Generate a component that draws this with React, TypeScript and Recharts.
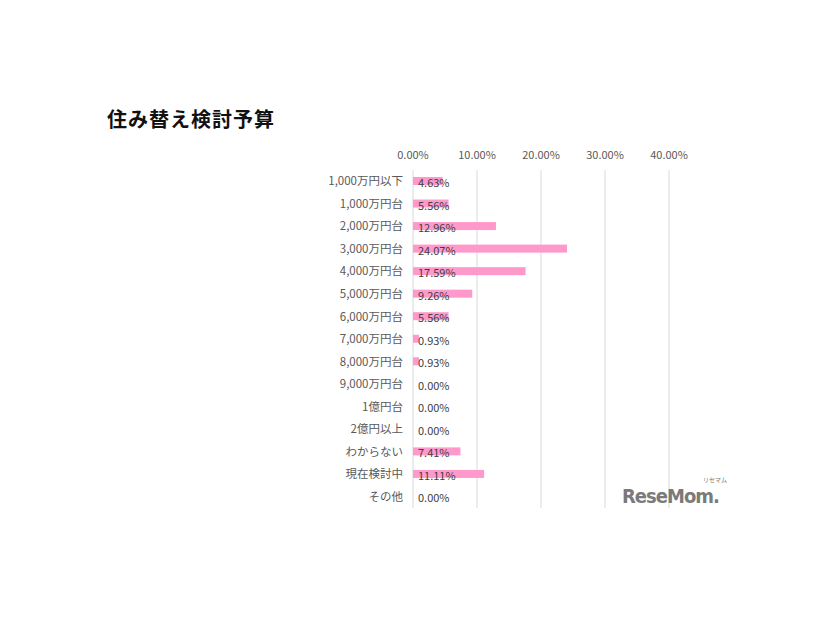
import { BarChart, Bar, XAxis, YAxis, CartesianGrid } from "recharts";

const CATEGORIES = [
  "1,000万円以下",
  "1,000万円台",
  "2,000万円台",
  "3,000万円台",
  "4,000万円台",
  "5,000万円台",
  "6,000万円台",
  "7,000万円台",
  "8,000万円台",
  "9,000万円台",
  "1億円台",
  "2億円以上",
  "わからない",
  "現在検討中",
  "その他",
];

const VALUES = [4.63, 5.56, 12.96, 24.07, 17.59, 9.26, 5.56, 0.93, 0.93, 0, 0, 0, 7.41, 11.11, 0];

const X_TICKS = [0, 10, 20, 30, 40];

const FONT = "'Noto Sans CJK JP', 'Noto Sans', sans-serif";

const data = CATEGORIES.map((name, i) => ({ name, value: VALUES[i] }));

const pct = (v: number) => `${v.toFixed(2)}%`;

// bar + its value label together, so 0% rows still get a label
function BarWithLabel(props: any) {
  const { x, y, width, height, payload } = props;
  const w = Math.max(0, Number(width) || 0);
  return (
    <g>
      {w > 0 && <rect x={x} y={y} width={w} height={height} fill="#ff99cc" />}
      <text
        x={Number(x) + 5}
        y={Number(y) + Number(height) / 2 + 1}
        dominantBaseline="central"
        fontSize={11}
        fill="#404040"
        fontFamily={FONT}
      >
        {pct(Number(payload?.value ?? 0))}
      </text>
    </g>
  );
}

export default function App() {
  return (
    <div
      style={{
        position: "absolute",
        left: 0,
        top: 0,
        width: 826,
        height: 620,
        background: "#fff",
        fontFamily: FONT,
      }}
    >
      <div
        style={{
          position: "absolute",
          left: 107,
          top: 104,
          fontSize: 20,
          fontWeight: 700,
          color: "#111",
          letterSpacing: 1,
        }}
      >
        住み替え検討予算
      </div>

      <BarChart
        width={826}
        height={620}
        data={data}
        layout="vertical"
        margin={{ top: 146, right: 157, bottom: 112, left: 313 }}
        barSize={8}
      >
        <CartesianGrid horizontal={false} stroke="#d9d9d9" />
        <XAxis
          type="number"
          orientation="top"
          domain={[0, 40]}
          ticks={X_TICKS}
          tickFormatter={pct}
          axisLine={false}
          tickLine={false}
          height={24}
          tickMargin={5}
          tick={{ fontSize: 11, fill: "#595959", fontFamily: FONT }}
        />
        <YAxis
          type="category"
          dataKey="name"
          width={100}
          axisLine={false}
          tickLine={false}
          tickMargin={4}
          tick={{ fontSize: 11.5, fill: "#595959", fontFamily: FONT }}
        />
        <Bar dataKey="value" fill="#ff99cc" isAnimationActive={false} shape={BarWithLabel} />
      </BarChart>

      <div
        style={{
          position: "absolute",
          left: 622,
          top: 484,
          fontSize: 20,
          fontWeight: 700,
          color: "#7a7a7a",
          fontFamily: "'DejaVu Sans Condensed', 'DejaVu Sans', sans-serif",
          letterSpacing: -1,
        }}
      >
        ReseMom.
      </div>
      <div
        style={{
          position: "absolute",
          left: 703,
          top: 477,
          fontSize: 6,
          lineHeight: "6px",
          color: "#7a7a7a",
        }}
      >
        リセマム
      </div>
    </div>
  );
}
